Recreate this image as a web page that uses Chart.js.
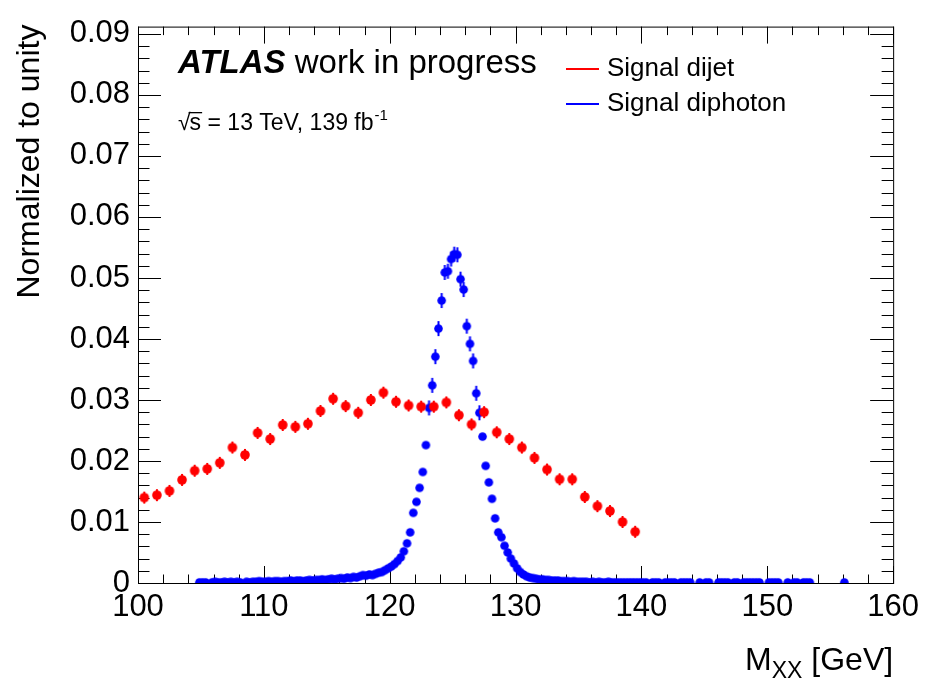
<!DOCTYPE html>
<html>
<head>
<meta charset="utf-8">
<script src="https://cdn.jsdelivr.net/npm/chart.js@4.4.1/dist/chart.umd.min.js"></script>
<style>
    html, body { margin: 0; padding: 0; background: #fff; }
</style>
</head>
<body>
<canvas id="massChart" width="925" height="684"></canvas>
<script>
// x axis: tick values and labels
const xTicks = [100, 110, 120, 130, 140, 150, 160];
const xTickLabels = ['100', '110', '120', '130', '140', '150', '160'];
const yTicks = [0, 0.01, 0.02, 0.03, 0.04, 0.05, 0.06, 0.07, 0.08, 0.09];
const yTickLabels = ['0', '0.01', '0.02', '0.03', '0.04', '0.05', '0.06', '0.07', '0.08', '0.09'];

// signal dijet: 1 GeV bins, centres 100.5 ... 139.5
const dijetMass = [
    100.5, 101.5, 102.5, 103.5, 104.5, 105.5, 106.5, 107.5, 108.5, 109.5,
    110.5, 111.5, 112.5, 113.5, 114.5, 115.5, 116.5, 117.5, 118.5, 119.5,
    120.5, 121.5, 122.5, 123.5, 124.5, 125.5, 126.5, 127.5, 128.5, 129.5,
    130.5, 131.5, 132.5, 133.5, 134.5, 135.5, 136.5, 137.5, 138.5, 139.5
];
const dijetFrac = [
    0.0140, 0.0144, 0.0151, 0.0169, 0.0184, 0.0187, 0.0197, 0.0222, 0.0210, 0.0246,
    0.0236, 0.0259, 0.0256, 0.0261, 0.0282, 0.0302, 0.0290, 0.0279, 0.0300, 0.0312,
    0.0297, 0.0291, 0.0289, 0.0289, 0.0296, 0.0275, 0.0260, 0.0280, 0.0247, 0.0236,
    0.0222, 0.0205, 0.0186, 0.0170, 0.0170, 0.0141, 0.0126, 0.0118, 0.0100, 0.0084
];

// signal diphoton: 0.25 GeV bins, first centre 104.875, one row per GeV (null = empty bin)
const diphotonFirstBin = 104.875;
const diphotonBinWidth = 0.25;
const diphotonFrac = [
    0.0001, 0.0001, 0.0001, null,
    0.0001, 0.0002, 0.0001, 0.0001,
    0.0002, 0.0001, 0.0002, 0.0001,
    0.0002, 0.0001, null, 0.0002,
    0.0001, 0.0002, 0.0002, 0.0003,
    0.0002, 0.0002, 0.0003, 0.0002,
    0.0003, 0.0003, 0.0002, 0.0003,
    0.0003, 0.0004, 0.0003, 0.0004,
    0.0004, 0.0003, 0.0004, 0.0005,
    0.0004, 0.0005, 0.0005, 0.0006,
    0.0005, 0.0006, 0.0007, 0.0006,
    0.0007, 0.0008, 0.0007, 0.0009,
    0.0008, 0.0010, 0.0009, 0.0011,
    0.0013, 0.0012, 0.0014, 0.0013,
    0.0015, 0.0017, 0.0018, 0.0021,
    0.0024, 0.0027, 0.0031, 0.0036,
    0.0042, 0.0052, 0.0065, 0.0083,
    0.0115, 0.0133, 0.0156, 0.0182,
    0.0226, 0.0287, 0.0324, 0.0371,
    0.0417, 0.0463, 0.0509, 0.0511,
    0.0531, 0.0539, 0.0538, 0.0498,
    0.0481, 0.0421, 0.0392, 0.0364,
    0.0311, 0.0279, 0.0240, 0.0192,
    0.0165, 0.0138, 0.0106, 0.0083,
    0.0075, 0.0061, 0.0050, 0.0040,
    0.0032, 0.0024, 0.0018, 0.0014,
    0.0011, 0.0009, 0.0008, 0.0007,
    0.0006, 0.0006, 0.0005, 0.0005,
    0.0004, 0.0004, 0.0004, 0.0003,
    0.0003, 0.0003, 0.0002, 0.0003,
    0.0002, 0.0002, 0.0002, 0.0002,
    0.0001, 0.0002, 0.0001, 0.0002,
    0.0001, 0.0001, 0.0002, 0.0001,
    0.0001, 0.0001, 0.0001, 0.0001,
    0.0001, 0.0001, 0.0001, 0.0001,
    0.0001, 0.0001, 0.0001, null,
    0.0001, 0.0001, 0.0001, null,
    0.0001, 0.0001, 0.0001, 0.0001,
    null, 0.0001, 0.0001, 0.0001,
    0.0001, null, null, 0.0001,
    null, 0.0001, 0.0001, null,
    null, 0.0001, 0.0001, 0.0001,
    0.0001, null, 0.0001, 0.0001,
    null, 0.0001, 0.0001, 0.0001,
    0.0001, 0.0001, 0.0001, null,
    null, 0.0001, 0.0001, 0.0001,
    0.0001, null, null, 0.0001,
    null, 0.0001, 0.0001, null,
    0.0001, 0.0001, 0.0001, null,
    null, null, null, null,
    null, null, null, null,
    null, 0.0001
];

const FONT = '"Liberation Sans", Arial, sans-serif';
const RED = '#ff0000';
const BLUE = '#0000ff';

// marker with a small vertical error stub, drawn once to an offscreen canvas
function marker(color, r, stub) {
    const size = Math.ceil(Math.max(r, stub) * 2 + 2);
    const c = document.createElement('canvas');
    c.width = size;
    c.height = size;
    const g = c.getContext('2d');
    g.fillStyle = color;
    g.beginPath();
    g.arc(size / 2, size / 2, r, 0, Math.PI * 2);
    g.fill();
    if (stub > 0) {
        g.strokeStyle = color;
        g.lineWidth = 2;
        g.beginPath();
        g.moveTo(size / 2, size / 2 - stub);
        g.lineTo(size / 2, size / 2 + stub);
        g.stroke();
    }
    return c;
}

const redMarker = marker(RED, 4.8, 6);
const blueDot = marker(BLUE, 4.3, 0);
const blueStub = marker(BLUE, 4.3, 7.5);

const dijetPoints = dijetMass.map((m, i) => ({ x: m, y: dijetFrac[i] }));
const diphotonPoints = diphotonFrac.map((v, i) => ({ x: diphotonFirstBin + i * diphotonBinWidth, y: v }));

// frame with ROOT style inward ticks on all four sides
const framePlugin = {
    id: 'frame',
    beforeDatasetsDraw(chart) {
        const { ctx, chartArea: a, scales: { x, y } } = chart;
        ctx.save();
        ctx.strokeStyle = '#000';
        ctx.lineWidth = 1;
        ctx.strokeRect(a.left + 0.5, a.top + 0.5, a.right - a.left, a.bottom - a.top);
        ctx.beginPath();
        for (let v = 100; v <= 160; v += 2) {
            const px = Math.round(x.getPixelForValue(v)) + 0.5;
            const len = (v % 10 === 0) ? 17 : 8.5;
            ctx.moveTo(px, a.bottom); ctx.lineTo(px, a.bottom - len);
            ctx.moveTo(px, a.top); ctx.lineTo(px, a.top + len);
        }
        for (let k = 0; k <= 45; k++) {
            const v = k * 0.002;
            const py = Math.round(y.getPixelForValue(v)) + 0.5;
            const len = (k % 5 === 0) ? 23 : 11.5;
            ctx.moveTo(a.left, py); ctx.lineTo(a.left + len, py);
            ctx.moveTo(a.right, py); ctx.lineTo(a.right - len, py);
        }
        ctx.stroke();
        ctx.restore();
    },
    afterDraw(chart) {
        const { ctx, chartArea: a } = chart;
        ctx.save();
        ctx.fillStyle = '#000';

        // y axis title
        ctx.save();
        ctx.translate(30, a.top - 2);
        ctx.rotate(-Math.PI / 2);
        ctx.font = `32px ${FONT}`;
        ctx.textAlign = 'right';
        ctx.textBaseline = 'middle';
        ctx.fillText('Normalized to unity', 0, 0);
        ctx.restore();

        // x axis title: M_XX [GeV], right aligned
        ctx.textBaseline = 'alphabetic';
        ctx.font = `32px ${FONT}`;
        const tail = ' [GeV]';
        const wTail = ctx.measureText(tail).width;
        const wM = ctx.measureText('M').width;
        ctx.font = `23px ${FONT}`;
        const wSub = ctx.measureText('XX').width;
        const xEnd = a.right;
        const base = 670;
        ctx.font = `32px ${FONT}`;
        ctx.fillText('M', xEnd - wTail - wSub - wM, base);
        ctx.fillText(tail, xEnd - wTail, base);
        ctx.font = `23px ${FONT}`;
        ctx.fillText('XX', xEnd - wTail - wSub, base + 8);

        // ATLAS label
        ctx.font = `italic bold 33px ${FONT}`;
        ctx.fillText('ATLAS', 178, 73);
        const wAtlas = ctx.measureText('ATLAS ').width;
        ctx.font = `33px ${FONT}`;
        ctx.fillText('work in progress', 178 + wAtlas, 73);

        // sqrt(s) line
        ctx.font = `23px ${FONT}`;
        let xp = 178;
        const yb = 130;
        ctx.fillText('\u221A', xp, yb);
        xp += ctx.measureText('\u221A').width - 1;
        const wS = ctx.measureText('s').width;
        ctx.fillText('s', xp, yb);
        ctx.fillRect(xp - 1, yb - 18, wS + 2, 1.3);
        xp += wS;
        const rest = ' = 13 TeV, 139 fb';
        ctx.fillText(rest, xp, yb);
        xp += ctx.measureText(rest).width;
        ctx.font = `15px ${FONT}`;
        ctx.fillText('-1', xp + 1, yb - 10);

        // legend
        const legend = [['Signal dijet', RED, 69], ['Signal diphoton', BLUE, 104]];
        ctx.font = `26px ${FONT}`;
        ctx.textBaseline = 'middle';
        legend.forEach(([label, color, ly]) => {
            ctx.strokeStyle = color;
            ctx.lineWidth = 2;
            ctx.beginPath();
            ctx.moveTo(566, ly);
            ctx.lineTo(599, ly);
            ctx.stroke();
            ctx.fillStyle = '#000';
            ctx.fillText(label, 607, ly);
        });
        ctx.restore();
    }
};

const ctx = document.getElementById('massChart').getContext('2d');

const massChart = new Chart(ctx, {
    type: 'scatter',
    data: {
        datasets: [
            {
                label: 'Signal dijet',
                data: dijetPoints,
                pointStyle: redMarker,
                backgroundColor: RED,
                borderColor: RED
            },
            {
                label: 'Signal diphoton',
                data: diphotonPoints,
                pointStyle: c => (c.raw && c.raw.y > 0.025) ? blueStub : blueDot,
                backgroundColor: BLUE,
                borderColor: BLUE
            }
        ]
    },
    options: {
        responsive: false,
        animation: false,
        layout: { padding: { top: 17, right: 31, left: 0, bottom: 0 } },
        plugins: {
            legend: { display: false },
            tooltip: { enabled: false }
        },
        scales: {
            x: {
                type: 'linear',
                min: 100,
                max: 160,
                afterBuildTicks: s => { s.ticks = xTicks.map(v => ({ value: v })); },
                afterFit: s => { s.height = 101; },
                grid: { display: false, drawTicks: false },
                border: { display: false },
                ticks: {
                    autoSkip: false,
                    maxRotation: 0,
                    padding: 6,
                    color: '#000',
                    font: { family: FONT, size: 31 },
                    callback: (v, i) => xTickLabels[i]
                }
            },
            y: {
                min: 0,
                max: 0.0912,
                afterBuildTicks: s => { s.ticks = yTicks.map(v => ({ value: v })); },
                afterFit: s => { s.width = 138; },
                grid: { display: false, drawTicks: false },
                border: { display: false },
                ticks: {
                    autoSkip: false,
                    padding: 8,
                    color: '#000',
                    font: { family: FONT, size: 31 },
                    callback: (v, i) => yTickLabels[i]
                }
            }
        }
    },
    plugins: [framePlugin]
});
</script>
</body>
</html>
